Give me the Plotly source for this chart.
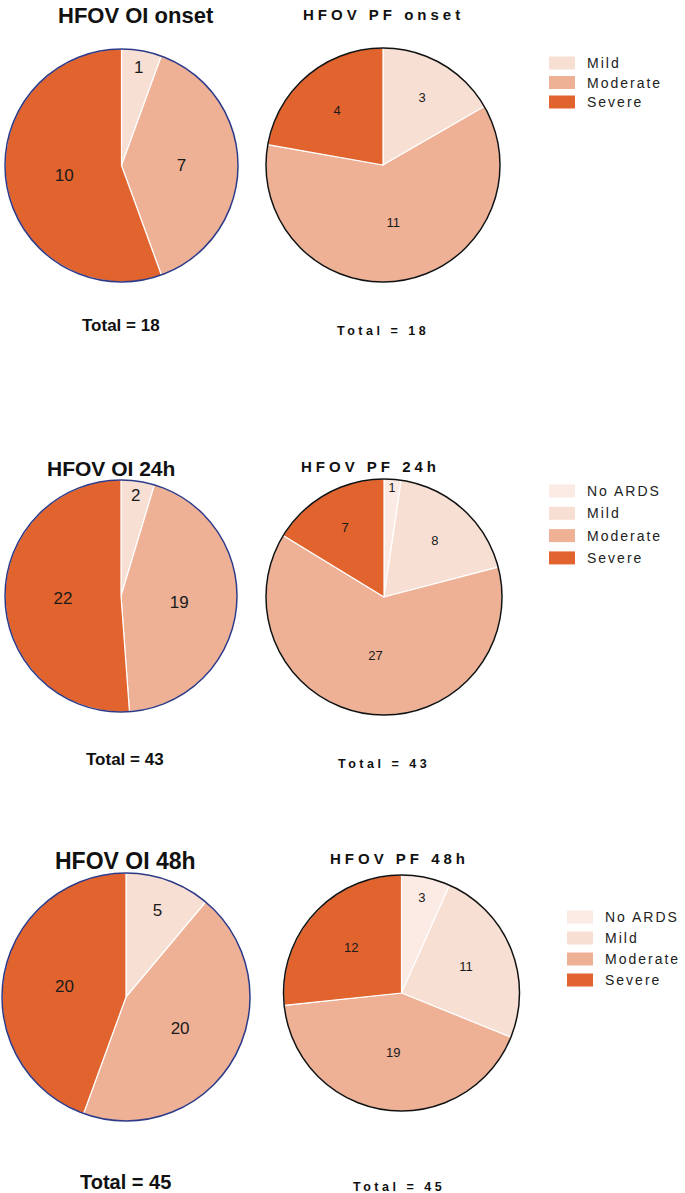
import plotly.graph_objects as go

W, H = 685, 1193

labels3 = ["Mild", "Moderate", "Severe"]
labels4 = ["No ARDS", "Mild", "Moderate", "Severe"]
color_map = {"No ARDS": "#FBEBE4", "Mild": "#F8DFD3", "Moderate": "#EEB196", "Severe": "#E1642E"}

oi_onset = [1, 7, 10]
pf_onset = [3, 11, 4]
oi_24h = [2, 19, 22]
pf_24h = [1, 8, 27, 7]
oi_48h = [5, 20, 20]
pf_48h = [3, 11, 19, 12]

titles = ["HFOV OI onset", "HFOV PF onset", "HFOV OI 24h", "HFOV PF 24h", "HFOV OI 48h", "HFOV PF 48h"]

# (labels, values, cx, cy, r, outline, text size, title x, title y, title size, total x, total y, total size, style)
pies = [
    (labels3, oi_onset, 121.5, 165.5, 116.5, "#2E3A87", 17, 136, 16, 22, 121, 326, 17, True),
    (labels3, pf_onset, 383, 165, 117, "#111111", 13, 383, 15, 15, 383, 331, 12.5, False),
    (labels3, oi_24h, 121, 596, 116, "#2E3A87", 17, 111, 468, 21, 125, 759, 17, True),
    (labels4, pf_24h, 384, 597, 118, "#111111", 13, 370, 467, 15, 384, 764, 12.5, False),
    (labels3, oi_48h, 126, 997, 124, "#2E3A87", 17, 125, 861, 23, 126, 1182, 20, True),
    (labels4, pf_48h, 401.5, 993, 118, "#111111", 13, 399, 859, 15, 399, 1187, 12.5, False),
]

FONT = "Arial, Liberation Sans, sans-serif"

def spaced(s, px):
    return f'<span style="letter-spacing:{px}px">{s}</span>'

def ann(x, y, text, size, xanchor="center", color="#111"):
    return dict(x=x / W, y=1 - y / H, xref="paper", yref="paper", xanchor=xanchor, yanchor="middle",
                text=text, showarrow=False, font=dict(family=FONT, size=size, color=color))

fig = go.Figure()
annotations = []
shapes = []
for i, (labs, vals, cx, cy, r, oc, ts, tx, ty, tsz, totx, toty, totsz, big) in enumerate(pies):
    dom_x = [(cx - r) / W, (cx + r) / W]
    dom_y = [1 - (cy + r) / H, 1 - (cy - r) / H]
    fig.add_trace(go.Pie(
        labels=labs, values=vals, sort=False, direction="clockwise", rotation=0,
        marker=dict(colors=[color_map[l] for l in labs], line=dict(color="white", width=1.2)),
        textinfo="value", textposition="inside", insidetextorientation="horizontal",
        textfont=dict(family=FONT, size=ts, color="#1a1a1a"),
        domain=dict(x=dom_x, y=dom_y), showlegend=False, hoverinfo="label+value",
    ))
    # outline ring
    fig.add_trace(go.Pie(
        labels=["all"], values=[sum(vals)], sort=False,
        marker=dict(colors=["rgba(0,0,0,0)"], line=dict(color=oc, width=1.5)),
        textinfo="none", domain=dict(x=dom_x, y=dom_y), showlegend=False, hoverinfo="skip",
    ))
    total = sum(vals)
    if big:
        annotations.append(ann(tx, ty, f"<b>{titles[i]}</b>", tsz))
        annotations.append(ann(totx, toty, f"<b>Total = {total}</b>", totsz))
    else:
        annotations.append(ann(tx, ty, "<b>" + spaced(titles[i], 4) + "</b>", tsz))
        annotations.append(ann(totx, toty, "<b>" + spaced(f"Total = {total}", 3.5) + "</b>", totsz))

# legends: (labels, swatch left x, first item y, step)
legends = [
    (labels3, 549, 63, 19.5),
    (labels4, 549, 491, 22.3),
    (labels4, 567, 917, 21),
]
for labs, lx, ly, step in legends:
    for j, l in enumerate(labs):
        yc = ly + j * step
        shapes.append(dict(type="rect", xref="paper", yref="paper",
                           x0=lx / W, x1=(lx + 26) / W, y0=1 - (yc + 6.5) / H, y1=1 - (yc - 6.5) / H,
                           fillcolor=color_map[l], line=dict(width=0)))
        annotations.append(ann(lx + 36, yc, spaced(l, 2), 14, xanchor="left", color="#222"))

fig.update_layout(
    width=W, height=H, margin=dict(l=0, r=0, t=0, b=0),
    paper_bgcolor="white", plot_bgcolor="white",
    annotations=annotations, shapes=shapes,
)
fig.write_html("out.html", config={"displayModeBar": False},
               post_script="document.body.style.margin='0';")
